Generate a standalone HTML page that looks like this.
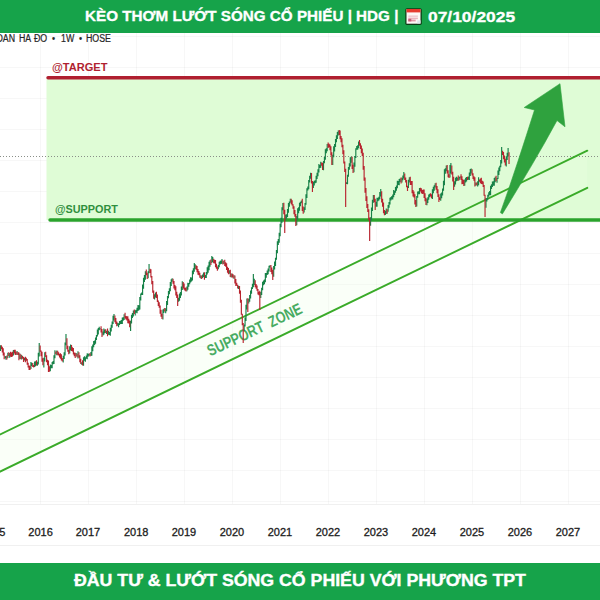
<!DOCTYPE html>
<html lang="vi">
<head>
<meta charset="utf-8">
<title>HDG</title>
<style>
*{margin:0;padding:0;box-sizing:border-box}
html,body{width:600px;height:600px;overflow:hidden;background:#fff;font-family:"Liberation Sans",sans-serif}
#wrap{position:relative;width:600px;height:600px;overflow:hidden;background:#fff}
#hdr{position:absolute;left:0;top:0;width:600px;height:33px;background:#16a34a;color:#fff;font-weight:bold;font-size:13px}
#hdr span{-webkit-text-stroke:0.3px #fff;position:absolute;top:0;line-height:33.4px;white-space:nowrap;transform-origin:0 50%}
#ftr{-webkit-text-stroke:0.35px #fff;position:absolute;left:0;top:563px;width:600px;height:37px;background:#16a34a;color:#fff;font-weight:bold;font-size:16px;text-align:center;line-height:36px;white-space:nowrap}
#sub{position:absolute;top:32.6px;left:0;font-size:10px;color:#262626;line-height:12px;white-space:nowrap}
#sub span{-webkit-text-stroke:0.2px #262626;position:absolute;top:0;transform-origin:0 50%;transform:scaleX(.88)}
.yr{-webkit-text-stroke:0.3px #1c1c1c;position:absolute;top:526px;width:48px;text-align:center;font-size:11px;color:#1c1c1c;line-height:13px}
svg{position:absolute;left:0;top:0}
.lbl{position:absolute;font-weight:bold;font-size:11.3px;line-height:12px;white-space:nowrap;transform-origin:0 50%}
</style>
</head>
<body>
<div id="wrap">
<svg width="600" height="600" viewBox="0 0 600 600">
  <!-- faint grid -->
  <g stroke="#000" stroke-opacity="0.03" stroke-width="1" fill="none"><path d="M40.5 33V504M88.5 33V504M136.5 33V504M184.5 33V504M232.5 33V504M280.5 33V504M328.5 33V504M376.5 33V504M424.5 33V504M472.5 33V504M520.5 33V504M568.5 33V504"/><path d="M0 36.5H600M0 67.5H600M0 98.5H600M0 129.5H600M0 160.5H600M0 191.5H600M0 222.5H600M0 253.5H600M0 284.5H600M0 315.5H600M0 346.5H600M0 377.5H600M0 408.5H600M0 439.5H600M0 470.5H600M0 501.5H600"/></g>
  <path d="M0 504.5H600M0 545.5H600" stroke="#000" stroke-opacity="0.06" stroke-width="1"/>
  <!-- green target zone -->
  <rect x="46.5" y="79" width="553.5" height="141" fill="#dffcd6"/>
  <!-- support channel fill -->
  <polygon points="0,434.4 587.3,150.7 587.3,187.8 0,471.6" fill="#eeffe6" fill-opacity="0.28"/>
  <!-- dotted price line -->
  <path d="M0 156.5H600" stroke="#8a8f88" stroke-width="1" stroke-dasharray="1 2"/>
  <!-- channel lines -->
  <path d="M-2 435.4L587.3 150.7" stroke="#3aab29" stroke-width="1.9" stroke-linecap="round"/>
  <path d="M-2 472.6L587.3 187.8" stroke="#3aab29" stroke-width="1.9" stroke-linecap="round"/>
  <!-- support / target lines -->
  <path d="M50 220H600" stroke="#2aa32c" stroke-width="3.4" stroke-linecap="round"/>
  <path d="M48 77.8H600" stroke="#b01f30" stroke-width="3.4" stroke-linecap="round"/>
  <!-- SUPPORT ZONE text -->
  <text transform="translate(210.3,356.6) rotate(-25.3) scale(0.79,1)" font-family="Liberation Sans, sans-serif" font-weight="bold" font-size="16" fill="#3aa657" opacity="0.93" word-spacing="4">SUPPORT ZONE</text>
  <!-- candles -->
  <g fill="none" stroke-width="1.15">
    <path stroke="#178248" d="M0.46 345.14V350.91M5.08 356.23V358.30M6.00 355.89V359.78M7.84 352.74V357.97M9.69 352.90V357.76M13.38 349.88V355.40M17.07 351.07V355.05M19.84 353.62V359.09M21.69 355.02V359.54M24.46 357.67V360.47M30.92 362.09V368.91M31.84 362.81V366.02M34.61 361.51V367.04M35.53 361.16V366.19M37.38 361.76V365.63M38.30 352.69V364.41M39.23 343.00V356.56M43.84 357.68V367.48M44.76 352.18V361.54M50.30 364.41V371.34M51.23 365.04V368.26M52.15 361.99V368.24M53.07 360.96V364.22M53.99 355.30V364.03M54.92 350.18V358.20M56.76 350.54V355.33M63.22 355.66V362.62M64.15 352.30V358.92M65.07 342.56V355.56M65.99 334.00V345.30M69.69 346.26V353.62M70.61 344.40V350.53M76.15 353.05V356.13M77.99 351.15V358.58M81.68 362.18V364.80M83.53 357.23V365.77M84.45 356.36V360.67M85.38 357.30V361.66M86.30 355.55V358.80M87.22 353.35V359.14M88.15 353.80V356.64M89.07 353.44V355.67M90.91 351.95V355.95M91.84 346.22V355.63M92.76 344.42V351.33M93.68 341.08V347.24M94.61 340.43V345.06M95.53 337.38V343.66M96.45 335.00V340.07M97.38 329.60V336.52M98.30 328.09V334.53M99.22 326.67V330.13M100.14 328.30V329.58M102.91 331.60V335.45M103.84 328.43V334.80M104.76 329.38V333.28M106.61 330.72V334.12M108.45 330.64V334.82M109.37 331.97V334.91M110.30 327.75V335.70M111.22 324.75V331.53M112.14 321.57V327.77M113.07 315.74V323.97M113.99 314.00V320.57M117.68 322.68V325.70M118.60 323.30V327.21M119.53 321.07V324.91M120.45 320.72V323.91M121.37 319.91V324.05M122.30 317.61V323.93M123.22 317.34V320.83M124.14 314.24V320.10M130.60 320.69V331.00M131.53 314.63V323.46M132.45 312.98V317.89M133.37 310.45V316.59M135.22 310.37V315.50M136.14 309.70V312.81M137.06 307.80V313.37M137.99 305.01V310.90M138.91 305.21V310.17M139.83 296.94V309.41M140.76 293.51V300.55M141.68 292.47V295.04M142.60 284.58V295.09M143.53 277.77V288.68M144.45 274.93V281.94M145.37 271.13V279.71M148.14 271.30V278.32M149.06 264.00V273.27M154.60 294.33V299.56M155.52 292.40V297.40M162.91 309.55V319.46M163.83 308.79V312.99M165.68 308.28V313.13M166.60 300.96V311.18M167.52 296.02V304.97M168.45 291.05V298.33M169.37 288.16V294.37M170.29 282.08V291.29M171.22 279.33V285.99M172.14 278.30V281.69M178.60 297.68V301.84M179.52 293.42V300.69M180.45 291.95V297.97M181.37 286.58V295.40M182.29 281.21V289.99M186.91 286.45V291.19M187.83 282.80V289.79M188.75 283.05V286.76M189.68 279.38V284.24M190.60 277.31V282.39M191.52 277.45V281.50M192.44 270.59V280.54M193.37 268.24V274.37M194.29 263.00V271.72M195.21 264.30V269.01M200.75 275.37V278.50M202.60 274.61V278.09M203.52 272.53V276.97M205.37 274.96V278.09M206.29 272.03V278.01M207.21 267.36V274.50M208.14 265.46V272.84M209.06 261.78V270.31M209.98 260.26V266.72M211.83 256.00V263.10M212.75 256.99V262.06M218.29 265.04V269.24M219.21 261.81V267.25M220.13 260.77V264.39M221.06 260.42V264.01M221.98 258.96V263.85M223.83 261.04V263.93M229.36 270.29V273.83M231.21 273.62V277.48M233.98 275.17V278.80M238.59 285.66V289.09M244.13 324.53V330.92M245.06 317.52V326.52M245.98 304.81V320.97M246.90 298.53V309.40M248.75 298.85V303.39M249.67 294.96V301.87M250.59 290.40V298.57M251.52 287.21V293.81M252.44 283.82V289.04M253.36 274.00V287.13M254.29 278.72V285.07M260.75 292.11V297.88M261.67 287.66V295.04M262.59 281.72V290.23M263.52 280.51V285.28M264.44 279.46V284.27M265.36 273.09V282.22M266.28 272.92V277.83M267.21 270.58V275.00M268.13 268.48V274.33M269.05 265.77V271.43M269.98 265.34V267.38M273.67 265.95V276.78M274.59 261.61V269.43M275.51 257.67V265.90M276.44 250.10V259.78M277.36 241.34V253.36M278.28 239.02V244.91M279.21 232.67V242.79M280.13 223.86V236.13M281.05 217.69V227.33M281.98 207.21V222.81M282.90 202.91V210.35M285.67 214.44V220.60M286.59 214.31V218.71M287.51 208.92V217.03M288.44 203.12V212.66M289.36 201.42V206.70M290.28 198.75V202.66M296.74 215.97V225.26M297.67 208.35V219.85M298.59 207.33V213.23M299.51 202.64V210.65M300.44 201.85V206.21M301.36 200.43V203.18M304.13 207.26V212.59M305.05 203.11V209.94M305.97 194.23V204.82M306.90 188.20V197.95M307.82 186.49V190.53M308.74 180.03V189.19M309.67 175.72V182.42M310.59 172.69V178.73M313.36 181.87V188.10M314.28 180.83V185.50M315.20 180.29V183.13M316.13 175.73V182.74M317.05 172.86V179.11M317.97 169.22V176.21M318.90 164.11V172.47M319.82 164.98V168.00M320.74 161.71V167.82M323.51 161.05V170.35M324.43 156.89V163.15M325.36 149.16V159.69M326.28 148.22V153.24M327.20 143.90V151.29M332.74 154.73V165.02M333.66 146.30V157.36M334.59 144.08V151.41M335.51 139.03V147.01M336.43 135.19V142.30M337.36 132.07V138.90M338.28 130.60V135.55M346.59 182.20V184.09M347.51 174.85V184.31M348.43 167.05V176.79M349.35 163.19V169.68M350.28 157.35V166.62M351.20 156.73V162.80M353.97 162.47V172.13M354.89 156.04V166.63M355.82 148.34V157.97M356.74 146.04V149.66M357.66 145.21V149.75M358.58 141.48V148.28M370.58 217.19V225.85M371.51 207.50V220.57M372.43 199.78V210.99M373.35 195.00V202.70M376.12 201.74V206.87M377.04 197.78V206.77M377.97 197.73V201.16M378.89 196.68V200.62M379.81 191.99V199.24M380.74 189.00V196.47M385.35 210.87V215.00M386.27 208.62V214.10M388.12 205.08V211.64M389.04 201.94V207.82M389.97 197.84V204.53M390.89 196.89V200.48M391.81 195.91V199.47M392.74 194.44V199.43M393.66 190.05V197.17M394.58 190.77V195.05M395.50 186.98V192.76M396.43 185.59V190.67M397.35 180.74V188.35M398.27 180.90V184.89M399.20 179.00V185.20M400.12 178.58V181.99M401.97 177.85V182.38M402.89 175.50V180.22M403.81 172.00V178.57M408.43 179.69V187.99M409.35 177.15V182.44M416.73 196.10V206.46M417.66 191.50V197.71M418.58 191.17V194.34M419.50 188.10V194.18M426.89 198.78V205.18M427.81 197.17V203.03M428.73 194.54V199.79M429.66 193.76V197.14M432.42 189.16V198.97M433.35 186.69V193.27M434.27 185.24V190.87M435.19 183.19V187.55M440.73 193.40V200.86M441.65 192.55V198.23M442.58 188.52V195.43M443.50 180.77V190.78M444.42 169.17V185.27M445.35 168.36V173.81M446.27 165.46V171.23M449.96 165.00V177.48M450.88 163.00V173.41M454.58 181.34V186.75M455.50 177.64V184.45M456.42 176.69V181.14M457.35 177.46V180.81M459.19 176.89V180.30M460.11 176.27V178.44M464.73 179.50V185.83M465.65 177.83V182.59M466.58 176.96V181.45M468.42 176.60V179.86M469.34 172.48V180.12M470.27 169.12V176.10M471.19 168.55V173.44M475.81 182.38V185.76M477.65 181.25V186.38M478.57 177.33V185.14M485.96 198.11V207.68M486.88 198.18V201.39M487.80 194.79V199.42M488.73 192.18V196.65M489.65 190.90V195.27M490.57 185.83V195.37M491.50 184.21V188.92M492.42 181.55V187.04M493.34 181.14V185.86M494.27 177.93V185.73M495.19 176.81V182.21M497.03 177.88V182.76M497.96 170.45V179.09M498.88 167.53V175.01M499.80 165.84V171.22M500.73 160.11V167.36M501.65 147.00V163.55M506.26 156.34V166.38M507.19 152.68V160.03M508.11 148.00V156.53"/>
    <path stroke="#b8242f" d="M1.38 345.20V349.34M2.31 346.82V352.54M3.23 348.34V355.58M4.15 352.40V359.17M6.92 355.46V359.51M8.77 352.14V356.00M10.61 351.73V356.79M11.54 352.47V357.10M12.46 351.83V356.54M14.31 349.85V353.58M15.23 349.81V354.94M16.15 351.80V354.87M18.00 352.11V355.08M18.92 352.60V360.19M20.77 354.35V359.32M22.61 355.92V358.83M23.54 356.98V362.05M25.38 356.73V362.17M26.30 357.84V360.76M27.23 359.00V364.70M28.15 362.70V367.42M29.07 365.66V370.00M30.00 365.51V370.00M32.77 362.89V366.90M33.69 364.98V367.39M36.46 360.33V365.55M40.15 345.61V351.72M41.07 350.60V356.32M42.00 351.63V361.68M42.92 358.24V365.35M45.69 351.85V357.05M46.61 355.23V362.23M47.53 359.68V365.18M48.46 360.45V372.00M49.38 366.34V371.83M55.84 351.38V354.15M57.69 350.86V355.19M58.61 352.29V355.43M59.53 353.71V357.46M60.46 353.19V358.66M61.38 354.15V360.60M62.30 357.97V361.56M66.92 338.23V349.33M67.84 345.68V351.63M68.76 349.77V354.13M71.53 345.07V350.88M72.45 347.17V351.51M73.38 347.91V354.53M74.30 352.49V356.24M75.22 352.81V357.89M77.07 353.68V357.35M78.92 352.35V357.71M79.84 355.32V362.25M80.76 358.68V364.02M82.61 360.25V365.51M89.99 353.19V356.48M101.07 326.26V332.40M101.99 329.09V336.89M105.68 329.26V333.01M107.53 328.62V336.22M114.91 315.60V322.14M115.84 317.96V324.01M116.76 321.52V326.35M125.07 312.83V318.49M125.99 315.92V319.54M126.91 316.15V320.60M127.83 316.33V323.15M128.76 318.68V323.61M129.68 320.40V327.35M134.30 309.47V313.97M146.29 269.56V275.35M147.22 272.74V278.89M149.99 268.69V273.07M150.91 269.19V277.41M151.83 275.91V284.37M152.76 281.06V292.76M153.68 290.61V298.77M156.45 291.63V298.12M157.37 294.39V302.08M158.29 300.49V305.89M159.22 302.35V307.76M160.14 305.40V313.72M161.06 309.81V316.77M161.99 313.65V319.00M164.75 307.95V311.53M173.06 278.82V283.73M173.98 280.88V288.40M174.91 285.02V290.19M175.83 286.21V295.39M176.75 291.71V297.98M177.68 294.52V306.00M183.21 282.09V288.45M184.14 283.59V289.63M185.06 287.71V290.70M185.98 287.59V291.50M196.14 265.27V269.67M197.06 266.12V272.28M197.98 268.98V274.75M198.91 270.91V275.29M199.83 272.79V277.76M201.67 275.45V279.02M204.44 272.31V279.75M210.90 259.57V264.92M213.67 258.65V263.27M214.60 259.73V263.53M215.52 260.10V267.37M216.44 263.86V268.87M217.37 266.39V270.75M222.90 260.13V264.52M224.75 259.84V266.05M225.67 262.21V266.79M226.60 263.18V269.91M227.52 266.64V272.77M228.44 268.04V274.13M230.29 269.85V277.05M232.13 273.43V277.29M233.06 274.17V278.32M234.90 275.58V283.60M235.83 278.99V285.95M236.75 282.71V285.72M237.67 284.63V288.44M239.52 285.90V293.76M240.44 290.40V302.83M241.36 299.80V314.77M242.29 313.71V325.18M243.21 323.12V343.00M247.82 298.28V312.00M255.21 280.30V287.17M256.13 284.00V288.71M257.05 285.56V290.77M257.98 289.09V294.55M258.90 291.73V295.26M259.82 290.83V310.00M270.90 265.10V271.93M271.82 267.60V274.33M272.75 269.75V280.00M283.82 202.83V214.16M284.74 209.83V233.00M291.21 198.84V204.13M292.13 200.20V205.59M293.05 204.19V208.82M293.97 206.14V214.17M294.90 210.11V216.87M295.82 214.03V226.00M302.28 198.73V210.93M303.20 206.60V213.83M311.51 172.95V183.41M312.43 180.92V192.00M321.66 162.41V165.76M322.59 162.83V170.09M328.13 142.48V147.90M329.05 143.65V147.24M329.97 144.50V150.21M330.89 146.26V155.58M331.82 152.34V165.00M339.20 130.00V135.04M340.12 130.57V139.17M341.05 136.08V142.13M341.97 138.34V147.27M342.89 144.65V154.26M343.82 150.16V163.61M344.74 161.62V172.02M345.66 168.71V207.00M352.12 156.73V168.94M353.05 164.79V172.96M359.51 140.00V145.70M360.43 143.31V148.88M361.35 145.56V153.33M362.28 148.53V155.97M363.20 152.66V169.78M364.12 166.09V180.70M365.05 177.52V192.76M365.97 187.95V200.90M366.89 196.33V208.07M367.81 204.03V211.94M368.74 209.18V220.14M369.66 217.47V241.00M374.28 194.88V202.26M375.20 198.70V210.00M381.66 191.20V202.55M382.58 198.72V206.87M383.51 202.49V213.14M384.43 210.00V215.31M387.20 209.24V213.77M401.04 177.51V183.58M404.73 173.51V180.05M405.66 177.57V182.54M406.58 179.98V187.18M407.50 185.74V191.00M410.27 176.86V185.06M411.20 181.07V185.05M412.12 181.08V193.18M413.04 190.09V196.58M413.96 191.59V197.45M414.89 194.32V204.41M415.81 200.04V207.00M420.43 187.84V191.60M421.35 188.17V193.19M422.27 189.98V193.95M423.19 189.50V193.79M424.12 189.45V198.07M425.04 193.20V201.17M425.96 197.78V205.07M430.58 193.16V196.43M431.50 194.22V198.16M436.12 182.73V189.83M437.04 186.03V193.31M437.96 189.14V196.98M438.89 194.34V202.00M439.81 197.36V200.12M447.19 165.10V173.54M448.12 170.28V177.34M449.04 174.37V178.08M451.81 165.40V174.51M452.73 171.72V181.50M453.65 176.75V190.00M458.27 175.51V180.86M461.04 174.17V180.09M461.96 176.17V184.25M462.88 179.34V183.92M463.81 180.10V185.90M467.50 176.74V180.01M472.11 169.15V175.45M473.04 173.16V179.03M473.96 176.33V180.84M474.88 177.37V186.60M476.73 182.41V185.33M479.50 179.41V181.73M480.42 178.48V183.16M481.34 177.74V183.91M482.27 180.86V184.23M483.19 181.51V186.92M484.11 185.08V195.73M485.04 194.69V217.00M496.11 175.74V181.29M502.57 150.71V154.91M503.50 152.02V159.25M504.42 155.58V162.56M505.34 158.63V165.53M509.03 152.33V164.00"/>
  </g>
  <!-- arrow -->
  <path d="M560 83.7 L524.2 107.5 L534.5 110 C524 143 512.5 179 500.4 212.6 L502.4 213.9 C521 183.5 539.8 152.5 557 120.5 L565 126.8 Z" fill="#2fa23e" stroke="#2fa23e" stroke-width="0.6" stroke-linejoin="round"/>
</svg>
<div id="hdr">
  <span style="left:85.3px;font-size:14px;transform:scaleX(1.087)">KÈO THƠM LƯỚT SÓNG CỔ PHIẾU | HDG |</span>
  <span style="left:427.8px;font-size:15px;transform:scaleX(1.16)">07/10/2025</span>
  <svg width="18" height="18" viewBox="0 0 18 18" style="left:405px;top:8px">
    <rect x="0.3" y="0.3" width="16.5" height="16.6" rx="1.6" fill="#0d3b15"/>
    <rect x="1.5" y="1.2" width="14" height="14.5" fill="#fdf7f6"/>
    <rect x="1.5" y="1" width="14" height="3.4" fill="#e63b30"/>
    <rect x="3.3" y="7.4" width="9.6" height="1.6" fill="#f0cdd3"/>
    <rect x="3.3" y="9.6" width="9.6" height="1.6" fill="#eab4bf"/>
    <rect x="3.3" y="11.6" width="7.4" height="1.8" fill="#e39aa9"/>
    <rect x="3.3" y="10.8" width="3" height="2.6" fill="#c7607a"/>
    <path d="M12.2 15.4V12.4H15.5V15.4Z" fill="#dde8ec"/>
  </svg>
</div>
<div id="sub"><span style="left:-3.6px">OAN</span><span style="left:19px">HA</span><span style="left:34px">ĐO</span><span style="left:52px">•</span><span style="left:61px">1W</span><span style="left:78.5px">•</span><span style="left:85.5px">HOSE</span></div>
<div class="lbl" style="left:52.4px;top:61.1px;color:#b01f30;transform:scaleX(.98)">@TARGET</div>
<div class="lbl" style="left:55.1px;top:203.4px;color:#2f8f3e;transform:scaleX(.958)">@SUPPORT</div>
<div class="yr" style="left:-30.8px">2015</div>
<div class="yr" style="left:16.6px">2016</div>
<div class="yr" style="left:64px">2017</div>
<div class="yr" style="left:112.2px">2018</div>
<div class="yr" style="left:160px">2019</div>
<div class="yr" style="left:208px">2020</div>
<div class="yr" style="left:256px">2021</div>
<div class="yr" style="left:304px">2022</div>
<div class="yr" style="left:352px">2023</div>
<div class="yr" style="left:400px">2024</div>
<div class="yr" style="left:448px">2025</div>
<div class="yr" style="left:496px">2026</div>
<div class="yr" style="left:544px">2027</div>
<div id="ftr"><span style="display:inline-block;transform:scaleX(1.108)">ĐẦU TƯ &amp; LƯỚT SÓNG CỔ PHIẾU VỚI PHƯƠNG TPT</span></div>
</div>
</body>
</html>
